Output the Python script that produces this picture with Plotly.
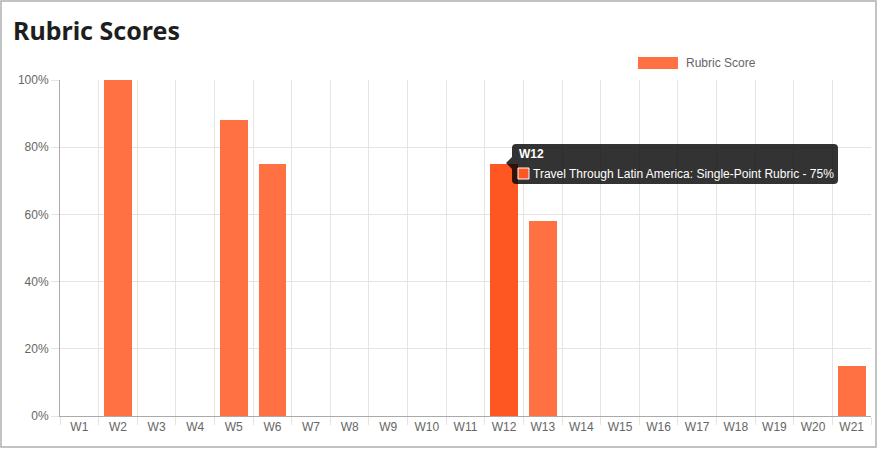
import plotly.graph_objects as go

weeks = ["W%d" % i for i in range(1, 22)]
scores = [0, 100, 0, 0, 88, 75, 0, 0, 0, 0, 0, 75, 58, 0, 0, 0, 0, 0, 0, 0, 15]
series_name = "Rubric Score"
hover_week = "W12"
hover_text = "Travel Through Latin America: Single-Point Rubric - 75%"

BAR = "#ff7043"
BAR_HOVER = "#ff5722"
GRID = "#e4e4e4"
TICK_FONT = dict(family="Liberation Sans, Arial", size=12, color="#666666")

# plot-area geometry in pixels, used to place the overlay shapes
W, H = 878, 450
L, R, T, B = 60, 7, 80, 34
PW, PH = W - L - R, H - T - B


def fx(px):
    return (px - L) / PW


def fy(py):
    return (H - B - py) / PH


def pt(px, py):
    return "%.5f,%.5f" % (fx(px), fy(py))


colors = [BAR_HOVER if w == hover_week else BAR for w in weeks]

fig = go.Figure(
    go.Bar(
        x=weeks,
        y=scores,
        name=series_name,
        marker=dict(color=colors, line_width=0),
        width=0.72,
        showlegend=False,
    )
)

# tooltip box with a small left arrow
x0, x1, y0, y1, r = 512, 838, 144, 184, 4
ax, ay = 506, 163
path = " ".join([
    "M", pt(x0 + r, y0),
    "L", pt(x1 - r, y0), "Q", pt(x1, y0), pt(x1, y0 + r),
    "L", pt(x1, y1 - r), "Q", pt(x1, y1), pt(x1 - r, y1),
    "L", pt(x0 + r, y1), "Q", pt(x0, y1), pt(x0, y1 - r),
    "L", pt(x0, ay + 6), "L", pt(ax, ay), "L", pt(x0, ay - 6),
    "L", pt(x0, y0 + r), "Q", pt(x0, y0), pt(x0 + r, y0), "Z",
])
shapes = [
    dict(type="path", xref="paper", yref="paper", path=path,
         fillcolor="rgba(0,0,0,0.8)", line_width=0, layer="above"),
    dict(type="rect", xref="paper", yref="paper",
         x0=fx(518), x1=fx(529), y0=fy(179), y1=fy(168),
         fillcolor=BAR_HOVER, line=dict(color="white", width=1), layer="above"),
    # legend swatch
    dict(type="rect", xref="paper", yref="paper",
         x0=fx(638), x1=fx(678), y0=fy(69), y1=fy(57),
         fillcolor=BAR, line_width=0),
    # card border
    dict(type="rect", xref="paper", yref="paper",
         x0=fx(1), x1=fx(876), y0=fy(447), y1=fy(1),
         line=dict(color="#b0b0b0", width=1.5), fillcolor="rgba(0,0,0,0)"),
]

annotations = [
    dict(xref="paper", yref="paper", x=fx(517), y=fy(154), xanchor="left",
         yanchor="middle", showarrow=False, text="<b>%s</b>" % hover_week,
         font=dict(family="Liberation Sans, Arial", size=12, color="white")),
    dict(xref="paper", yref="paper", x=fx(531), y=fy(173.5), xanchor="left",
         yanchor="middle", showarrow=False, text=hover_text,
         font=dict(family="Liberation Sans, Arial", size=12, color="white")),
    dict(xref="paper", yref="paper", x=fx(684), y=fy(63), xanchor="left",
         yanchor="middle", showarrow=False, text=series_name,
         font=TICK_FONT),
]

fig.update_layout(
    width=W,
    height=H,
    margin=dict(l=L, r=R, t=T, b=B),
    paper_bgcolor="white",
    plot_bgcolor="white",
    title=dict(
        text="<b>Rubric Scores</b>",
        x=13 / W,
        xanchor="left",
        y=1 - 31 / H,
        yanchor="middle",
        font=dict(family="Noto Sans, Inter", size=25, color="#1e1e1e"),
    ),
    showlegend=False,
    shapes=shapes,
    annotations=annotations,
    bargap=0,
)

fig.update_xaxes(
    type="category",
    tickson="boundaries",
    showgrid=True,
    gridcolor=GRID,
    ticks="outside",
    ticklen=8,
    tickcolor=GRID,
    showline=True,
    linecolor="#aaaaaa",
    tickfont=TICK_FONT,
    range=[-0.5, len(weeks) - 0.5],
    fixedrange=True,
)
fig.update_yaxes(
    range=[0, 100],
    tickvals=[0, 20, 40, 60, 80, 100],
    ticktext=["0%", "20%", "40%", "60%", "80%", "100%"],
    showgrid=True,
    gridcolor=GRID,
    zeroline=False,
    ticks="outside",
    ticklen=8,
    tickcolor=GRID,
    showline=True,
    linecolor="#aaaaaa",
    tickfont=TICK_FONT,
    fixedrange=True,
)

fig.write_html(
    "out.html",
    config={"displayModeBar": False},
    post_script="document.body.style.margin='0';",
)
